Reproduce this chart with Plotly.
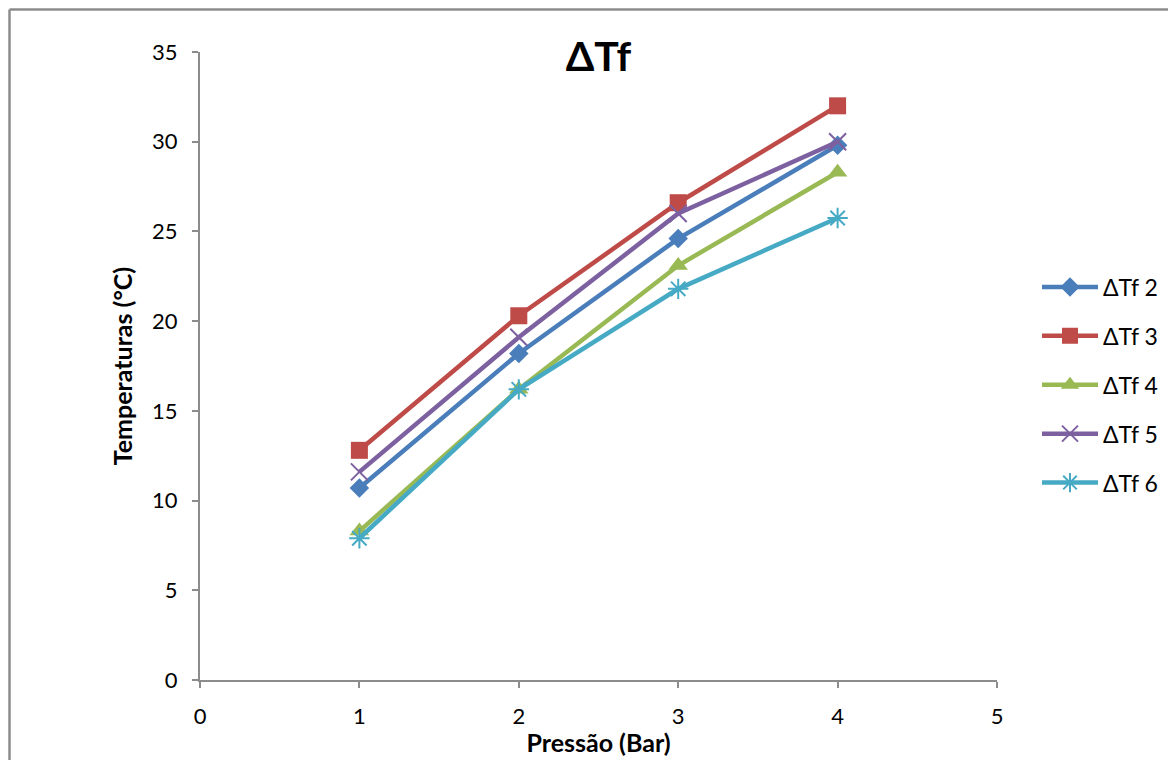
import plotly.graph_objects as go

pressure = [1, 2, 3, 4]
series_names = ["ΔTf 2", "ΔTf 3", "ΔTf 4", "ΔTf 5", "ΔTf 6"]
dtf2 = [10.7, 18.2, 24.6, 29.8]
dtf3 = [12.8, 20.3, 26.6, 32.0]
dtf4 = [8.3, 16.2, 23.1, 28.3]
dtf5 = [11.6, 19.1, 26.0, 30.0]
dtf6 = [7.9, 16.2, 21.8, 25.75]
x_ticks = [0, 1, 2, 3, 4, 5]
y_ticks = [0, 5, 10, 15, 20, 25, 30, 35]

colors = ["#4A7EBB", "#BE4B48", "#98B954", "#7D60A0", "#46AAC5"]
symbols = ["diamond", "square", "triangle-up", "x-thin-open", "asterisk-open"]
sizes = [15, 17, 17, 17, 17]

FONT = "Lato, 'Open Sans', sans-serif"

# page body has an 8px margin; figure pixels are offset by 8 from the screen
L, R, T, B = 192, 187, 44, 88
PW = 1176 - L - R
PH = 760 - T - B
Y0 = 760 - B  # figure pixel row of the plot bottom

fig = go.Figure()
for i, (name, vals) in enumerate(zip(series_names, [dtf2, dtf3, dtf4, dtf5, dtf6])):
    thin = symbols[i].endswith("open")
    fig.add_trace(go.Scatter(
        x=pressure, y=vals, name=name, mode="lines+markers",
        legendgroup=name,
        line=dict(color=colors[i], width=4.5),
        marker=dict(symbol=symbols[i], size=sizes[i], color=colors[i],
                    line=dict(color=colors[i], width=2 if thin else 0)),
    ))

fig.update_layout(
    width=1176, height=760,
    paper_bgcolor="white", plot_bgcolor="white",
    margin=dict(l=L, r=R, t=T, b=B),
    font=dict(family=FONT, size=21, color="black"),
    title=dict(text="<b>ΔTf</b>", x=0.5, xref="paper", y=(Y0 - 49) / PH, yref="paper",
               yanchor="middle", xanchor="center",
               font=dict(size=41, family=FONT, color="black")),
    legend=dict(x=(1029 - L) / PW, y=(Y0 - 377) / PH, xanchor="left", yanchor="middle",
                font=dict(size=23, family=FONT), tracegroupgap=16,
                traceorder="grouped", itemwidth=56),
    showlegend=True,
)
fig.update_xaxes(range=[0, 5], tickvals=x_ticks, showgrid=False, zeroline=False,
                 showline=True, linecolor="#8C8C8C", linewidth=2,
                 ticks="outside", ticklen=6, tickcolor="#8C8C8C", tickwidth=2,
                 tickfont=dict(size=22, family=FONT), ticklabelstandoff=10,
                 title=dict(text="<b>Pressão (Bar)</b>", font=dict(size=25, family=FONT), standoff=6))
fig.update_yaxes(range=[0, 35], tickvals=y_ticks, showgrid=False, zeroline=False,
                 showline=True, linecolor="#8C8C8C", linewidth=2,
                 ticks="outside", ticklen=6, tickcolor="#8C8C8C", tickwidth=2,
                 tickfont=dict(size=22, family=FONT), ticklabelstandoff=10,
                 title=dict(text="<b>Temperaturas (°C)</b>", font=dict(size=25, family=FONT), standoff=12))

# outer chart border (left and top edges visible in reference)
bx = (1.5 - L) / PW
by = (Y0 - 1.5) / PH
fig.add_shape(type="line", xref="paper", yref="paper",
              x0=bx, x1=1.4, y0=by, y1=by,
              line=dict(color="#8C8C8C", width=2.5))
fig.add_shape(type="line", xref="paper", yref="paper",
              x0=bx, x1=bx, y0=-0.3, y1=by,
              line=dict(color="#8C8C8C", width=2.5))

fig.write_html("out.html")
